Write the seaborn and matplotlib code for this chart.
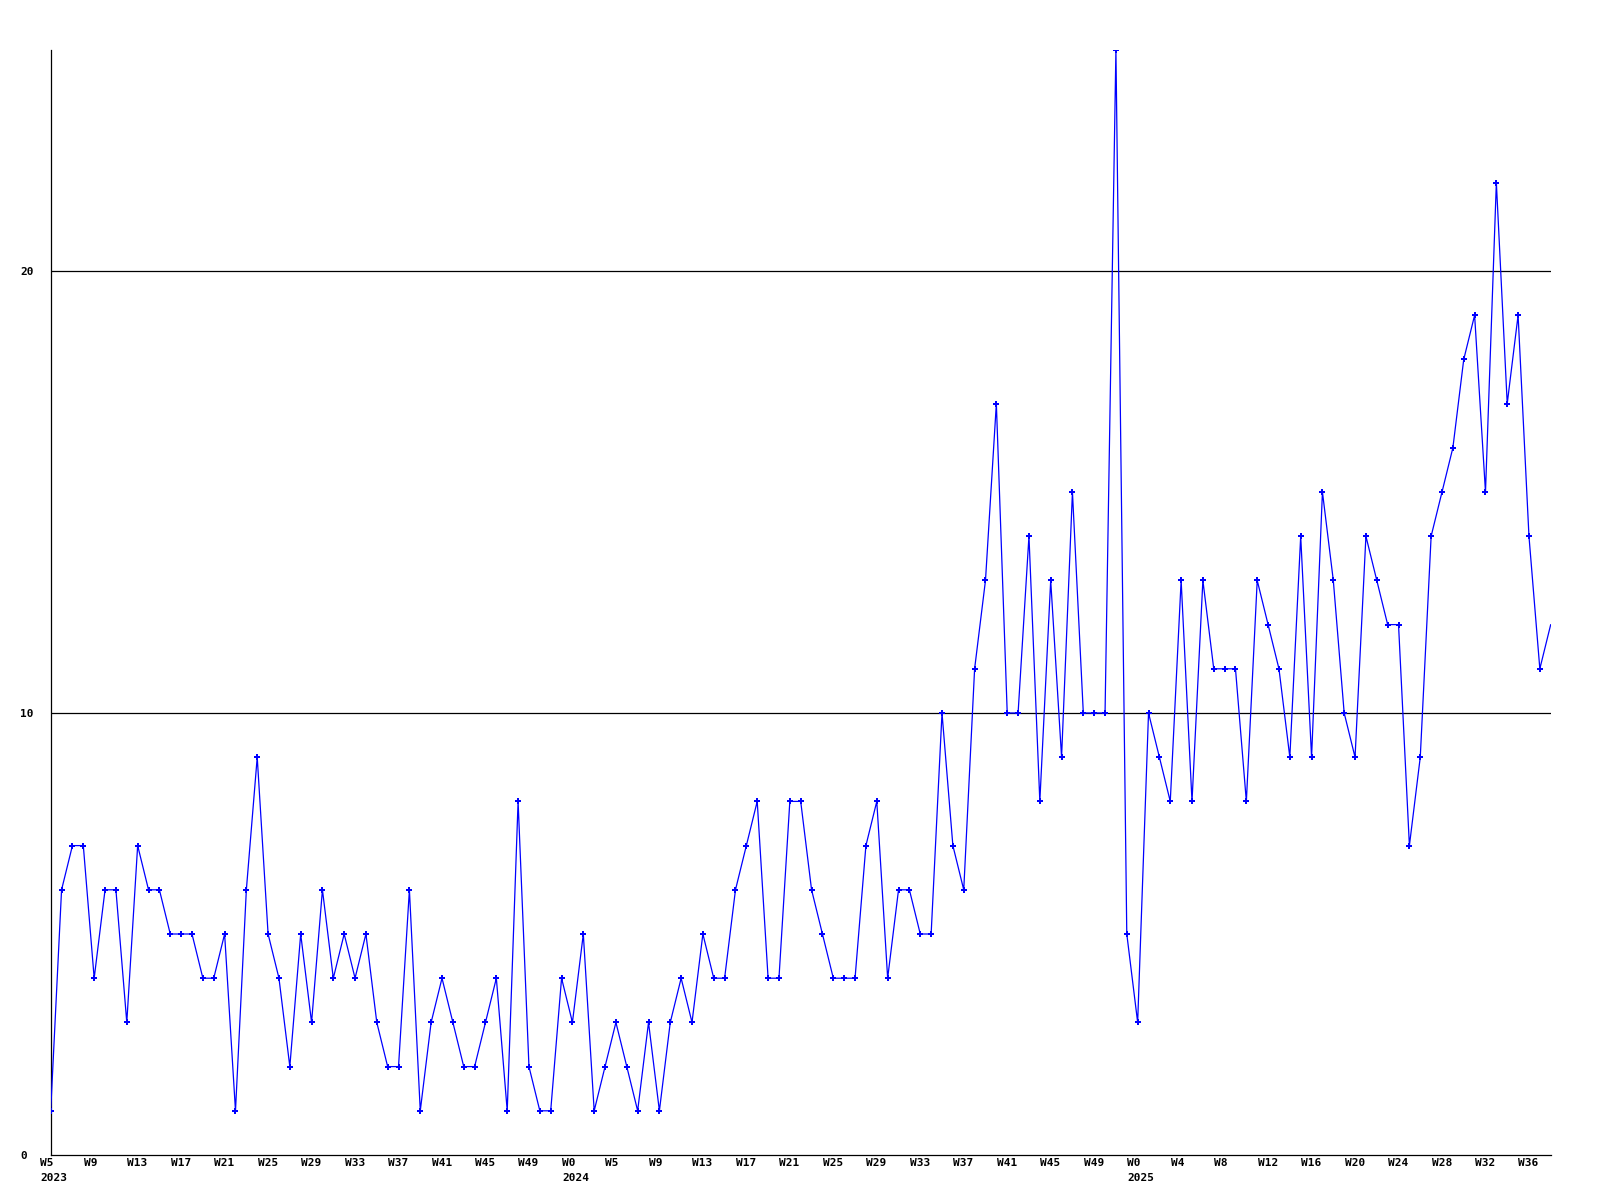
import matplotlib
matplotlib.use("Agg")
import matplotlib.pyplot as plt
from matplotlib.transforms import ScaledTranslation
import seaborn as sns
import pandas as pd

# ---- data ----
values = [
    1, 6, 7, 7, 4, 6, 6, 3, 7, 6, 6, 5, 5, 5, 4, 4, 5, 1, 6, 9,
    5, 4, 2, 5, 3, 6, 4, 5, 4, 5, 3, 2, 2, 6, 1, 3, 4, 3, 2, 2,
    3, 4, 1, 8, 2, 1, 1, 4, 3, 5, 1, 2, 3, 2, 1, 3, 1, 3, 4, 3,
    5, 4, 4, 6, 7, 8, 4, 4, 8, 8, 6, 5, 4, 4, 4, 7, 8, 4, 6, 6,
    5, 5, 10, 7, 6, 11, 13, 17, 10, 10, 14, 8, 13, 9, 15, 10, 10, 10, 25, 5,
    3, 10, 9, 8, 13, 8, 13, 11, 11, 11, 8, 13, 12, 11, 9, 14, 9, 15, 13, 10,
    9, 14, 13, 12, 12, 7, 9, 14, 15, 16, 18, 19, 15, 22, 17, 19, 14, 11, 12,
]
week_labels_2023 = ["W5", "W9", "W13", "W17", "W21", "W25", "W29", "W33",
                    "W37", "W41", "W45", "W49"]
week_labels_2024 = ["W0", "W5", "W9", "W13", "W17", "W21", "W25", "W29",
                    "W33", "W37", "W41", "W45", "W49"]
week_labels_2025 = ["W0", "W4", "W8", "W12", "W16", "W20", "W24", "W28",
                    "W32", "W36"]
years = ["2023", "2024", "2025"]
y_ticks = [0, 10, 20]

# ---- build frame ----
df = pd.DataFrame({"idx": list(range(len(values))), "value": values})

tick_labels = []
for yr, wl in zip(years, [week_labels_2023, week_labels_2024, week_labels_2025]):
    for j, w in enumerate(wl):
        tick_labels.append(f"{w}\n{yr}" if j == 0 else w)
tick_pos = list(range(0, 4 * len(tick_labels), 4))

sns.set_theme(style="white")
plt.rcParams["font.family"] = ["DejaVu Sans Mono", "DejaVu Sans"]

fig = plt.figure(figsize=(16, 12), dpi=100)
ax = fig.add_axes([50.7 / 1600, 1 - 1155 / 1200, 1500 / 1600, 1105 / 1200])

for yv in y_ticks[1:]:
    ax.axhline(yv, color="black", linewidth=0.9, zorder=1)

sns.lineplot(data=df, x="idx", y="value", ax=ax, color="#0000FF",
             linewidth=0.9, marker="P", markersize=4.5,
             markeredgewidth=0, markerfacecolor="#0000FF", zorder=3,
             markevery=list(range(len(values) - 1)))

ax.set_xlim(0, len(values) - 1)
ax.set_ylim(0, 25)
ax.set_xlabel("")
ax.set_ylabel("")

for s in ["top", "right"]:
    ax.spines[s].set_visible(False)
for s in ["left", "bottom"]:
    ax.spines[s].set_color("black")
    ax.spines[s].set_linewidth(0.9)

ax.set_yticks(y_ticks)
ax.set_yticklabels([str(v) for v in y_ticks], fontsize=8, fontweight="bold",
                   ha="left", color="black")
ax.tick_params(axis="y", length=0, pad=22)

ax.set_xticks(tick_pos)
ax.set_xticklabels(tick_labels, fontsize=8, fontweight="bold", color="black",
                   ha="left", linespacing=1.6)
ax.tick_params(axis="x", length=0, pad=2)
off = ScaledTranslation(-10.5 / 100, 0, fig.dpi_scale_trans)
for lab in ax.get_xticklabels():
    lab.set_transform(lab.get_transform() + off)

ax.grid(False)
fig.savefig("out.png", dpi=100, facecolor="white")
